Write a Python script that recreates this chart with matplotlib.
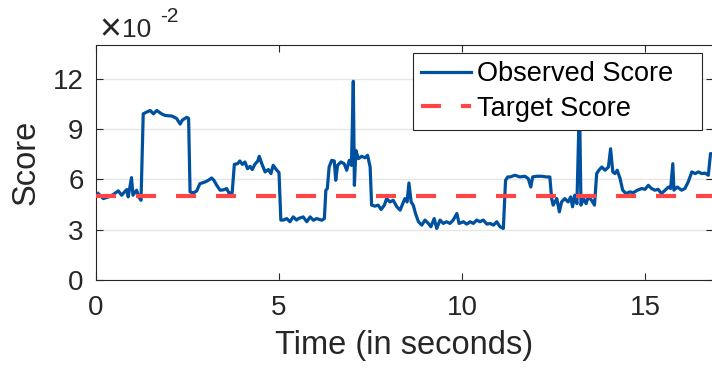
import matplotlib
matplotlib.use("Agg")
import matplotlib.pyplot as plt

# observed score over time
time_s = [0.06, 0.20, 0.34, 0.47, 0.61, 0.70, 0.84, 0.88, 0.97, 1.01, 1.11, 1.17, 1.23,
          1.29, 1.38, 1.48, 1.57, 1.66, 1.79, 1.89, 2.07, 2.20, 2.30, 2.36, 2.48, 2.53,
          2.57, 2.66, 2.75, 2.84, 2.98, 3.07, 3.16, 3.22, 3.30, 3.39, 3.48, 3.57, 3.63, 3.72,
          3.78, 3.87, 3.93, 4.00, 4.07, 4.14, 4.21, 4.27, 4.34, 4.42, 4.46, 4.53, 4.62, 4.71,
          4.78, 4.84, 4.94, 5.00, 5.05, 5.12, 5.21, 5.30, 5.39, 5.48, 5.53, 5.66, 5.76, 5.85,
          5.94, 6.03, 6.17, 6.24, 6.28, 6.32, 6.37, 6.44, 6.51, 6.55, 6.60, 6.69, 6.78, 6.85,
          6.92, 6.98, 7.03, 7.06, 7.10, 7.17, 7.26, 7.35, 7.42, 7.49, 7.53, 7.62, 7.71, 7.79,
          7.88, 7.94, 8.03, 8.12, 8.22, 8.31, 8.38, 8.44, 8.50, 8.55, 8.61, 8.67, 8.73, 8.81,
          8.90, 8.99, 9.08, 9.15, 9.24, 9.31, 9.40, 9.49, 9.58, 9.67, 9.76, 9.86, 9.92, 10.04,
          10.13, 10.22, 10.31, 10.40, 10.49, 10.58, 10.68, 10.77, 10.86, 10.95, 11.04, 11.13,
          11.19, 11.25, 11.31, 11.45, 11.58, 11.72, 11.81, 11.88, 11.93, 12.04, 12.18, 12.31,
          12.40, 12.45, 12.49, 12.59, 12.66, 12.72, 12.81, 12.90, 12.97, 13.02, 13.08, 13.14,
          13.21, 13.25, 13.32, 13.39, 13.45, 13.54, 13.62, 13.68, 13.74, 13.82, 13.91, 14.00,
          14.06, 14.12, 14.18, 14.24, 14.32, 14.39, 14.48, 14.59, 14.68, 14.79, 14.91, 15.00,
          15.09, 15.18, 15.27, 15.36, 15.45, 15.55, 15.64, 15.70, 15.76, 15.79, 15.88, 16.00,
          16.09, 16.18, 16.28, 16.37, 16.46, 16.55, 16.64, 16.73, 16.79, 16.90]
observed = [0.0515, 0.0485, 0.0495, 0.0509, 0.0531, 0.0505, 0.0539, 0.0495, 0.0610, 0.0505,
            0.0535, 0.0495, 0.0475, 0.0990, 0.1000, 0.1010, 0.0990, 0.1010, 0.0990, 0.0980,
            0.0977, 0.0963, 0.0929, 0.0953, 0.0969, 0.0963, 0.0525, 0.0519, 0.0530, 0.0574,
            0.0584, 0.0594, 0.0608, 0.0594, 0.0564, 0.0535, 0.0537, 0.0545, 0.0519, 0.0519,
            0.0689, 0.0693, 0.0709, 0.0689, 0.0703, 0.0663, 0.0677, 0.0658, 0.0689, 0.0709,
            0.0737, 0.0693, 0.0644, 0.0658, 0.0634, 0.0683, 0.0654, 0.0640, 0.0357, 0.0357,
            0.0366, 0.0347, 0.0376, 0.0357, 0.0366, 0.0376, 0.0347, 0.0376, 0.0356, 0.0366,
            0.0356, 0.0366, 0.0535, 0.0545, 0.0673, 0.0713, 0.0709, 0.0594, 0.0683, 0.0703,
            0.0693, 0.0654, 0.0713, 0.0683, 0.1184, 0.0564, 0.0772, 0.0723, 0.0737, 0.0728,
            0.0743, 0.0673, 0.0446, 0.0440, 0.0446, 0.0420, 0.0446, 0.0485, 0.0465, 0.0475,
            0.0436, 0.0416, 0.0455, 0.0485, 0.0465, 0.0578, 0.0465, 0.0445, 0.0396, 0.0347,
            0.0327, 0.0357, 0.0337, 0.0317, 0.0366, 0.0307, 0.0357, 0.0337, 0.0347, 0.0337,
            0.0357, 0.0396, 0.0337, 0.0347, 0.0333, 0.0347, 0.0337, 0.0357, 0.0347, 0.0357,
            0.0333, 0.0337, 0.0327, 0.0347, 0.0317, 0.0307, 0.0594, 0.0614, 0.0614, 0.0624,
            0.0614, 0.0618, 0.0604, 0.0554, 0.0614, 0.0618, 0.0618, 0.0614, 0.0614, 0.0485,
            0.0446, 0.0485, 0.0406, 0.0465, 0.0485, 0.0465, 0.0495, 0.0436, 0.0505, 0.0455,
            0.1080, 0.0446, 0.0485, 0.0455, 0.0495, 0.0475, 0.0446, 0.0634, 0.0654, 0.0673,
            0.0654, 0.0673, 0.0782, 0.0644, 0.0634, 0.0654, 0.0604, 0.0535, 0.0515, 0.0525,
            0.0520, 0.0535, 0.0545, 0.0540, 0.0564, 0.0545, 0.0535, 0.0540, 0.0515, 0.0535,
            0.0554, 0.0545, 0.0693, 0.0535, 0.0554, 0.0535, 0.0545, 0.0584, 0.0644, 0.0634,
            0.0644, 0.0634, 0.0637, 0.0624, 0.0753, 0.0750]
target = 0.05

y_ticks = [0, 0.03, 0.06, 0.09, 0.12]
y_tick_labels = ["0", "3", "6", "9", "12"]
x_ticks = [0, 5, 10, 15]

plt.rcParams["font.family"] = ["Liberation Sans", "DejaVu Sans"]
txt = "#262626"

fig = plt.figure(figsize=(7.12, 3.71), dpi=100)
# axes run a pixel past the right edge, like the cropped reference
ax = fig.add_axes([96 / 712, 91 / 371, 617 / 712, 235 / 371])

ax.plot(time_s, observed, color="#0050A0", lw=2.3, label="Observed Score", zorder=3)
ax.plot([0, 17], [target, target], color="#FF4545", lw=3.0, ls=(0, (4.8, 4.8)),
        label="Target Score", zorder=4)

ax.set_xlim(0, 617 / 36.6)
ax.set_ylim(0, 0.14)
ax.set_xticks(x_ticks)
ax.set_yticks(y_ticks)
ax.set_yticklabels(y_tick_labels)
ax.grid(axis="y", color="#E6E6E6", lw=1)
ax.set_axisbelow(True)

for s in ["left", "bottom", "top", "right"]:
    ax.spines[s].set_color(txt)
    ax.spines[s].set_linewidth(0.8)
ax.tick_params(direction="in", length=5, width=0.8, color=txt,
               labelsize=20, labelcolor=txt, top=True, right=True)
ax.tick_params(axis="y", pad=9)
ax.tick_params(axis="x", pad=11)

ax.set_xlabel("Time (in seconds)", fontsize=23.5, color=txt, labelpad=6)
ax.set_ylabel("Score", fontsize=23.5, color=txt, labelpad=8)

fig.text(99 / 712, 1 - 40 / 371, "\u00d7", fontsize=27, color=txt, va="baseline")
fig.text(122 / 712, 1 - 37 / 371, "10", fontsize=19, color=txt, va="baseline")
fig.text(160 / 712, 1 - 21.5 / 371, "-2", fontsize=15, color=txt, va="baseline")

leg = ax.legend(loc="upper left",
                bbox_to_anchor=(413 / 712, 1 - 130 / 371, 289 / 712, 77 / 371),
                bbox_transform=fig.transFigure, mode="expand", fontsize=19.5,
                frameon=True, fancybox=False, framealpha=1, edgecolor=txt,
                handlelength=1.85, handletextpad=0.22, labelspacing=0.32,
                borderpad=0.3, borderaxespad=0)
leg.get_frame().set_linewidth(0.8)
leg.set_zorder(10)

fig.savefig("out.png", dpi=100)
